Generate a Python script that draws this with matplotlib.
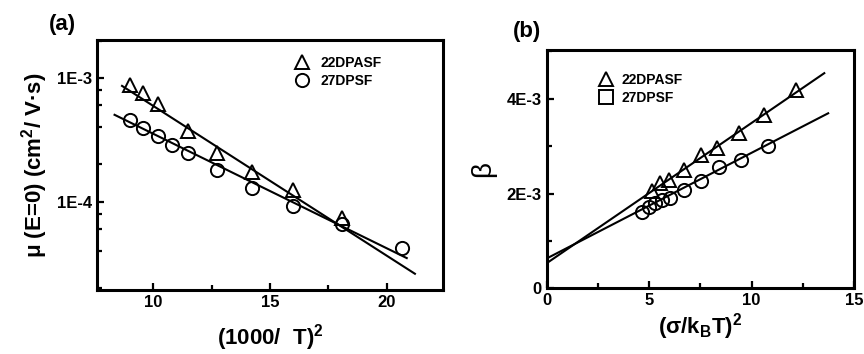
import numpy as np
import matplotlib
matplotlib.use('Agg')
import matplotlib.pyplot as plt
from matplotlib.lines import Line2D
from matplotlib.ticker import LogLocator, MultipleLocator, NullFormatter, FuncFormatter

plt.rcParams['font.family'] = ['Liberation Sans', 'DejaVu Sans']
plt.rcParams['font.weight'] = 'bold'
plt.rcParams['mathtext.fontset'] = 'custom'
plt.rcParams['mathtext.rm'] = 'Liberation Sans:bold'
plt.rcParams['mathtext.bf'] = 'Liberation Sans:bold'
plt.rcParams['mathtext.it'] = 'Liberation Sans:bold'

# (a) mu(E=0) vs (1000/T)^2
x_a_22 = [9.0, 9.58, 10.2, 11.5, 12.75, 14.24, 16.0, 18.1]
y_a_22 = [8.8e-4, 7.5e-4, 6.2e-4, 3.7e-4, 2.47e-4, 1.74e-4, 1.24e-4, 7.4e-5]
x_a_27 = [9.0, 9.58, 10.2, 10.8, 11.5, 12.75, 14.24, 16.0, 18.1, 20.66]
y_a_27 = [4.53e-4, 3.93e-4, 3.4e-4, 2.88e-4, 2.47e-4, 1.79e-4, 1.29e-4, 9.3e-5, 6.6e-5, 4.27e-5]
# fitted lines: log10(mu) = a + b*x, drawn over [x0, x1]
fit_a_22 = (-2.016, -0.121, 8.67, 21.2)
fit_a_27 = (-2.526, -0.0925, 8.35, 20.85)

# (b) beta vs (sigma/kT)^2
x_b_22 = [5.13, 5.54, 5.95, 6.69, 7.51, 8.33, 9.4, 10.62, 12.18]
y_b_22 = [2.06e-3, 2.22e-3, 2.29e-3, 2.5e-3, 2.82e-3, 2.96e-3, 3.27e-3, 3.66e-3, 4.19e-3]
x_b_27 = [4.64, 4.97, 5.3, 5.63, 6.04, 6.69, 7.51, 8.41, 9.48, 10.79]
y_b_27 = [1.62e-3, 1.72e-3, 1.79e-3, 1.86e-3, 1.9e-3, 2.08e-3, 2.27e-3, 2.56e-3, 2.71e-3, 3.0e-3]
# fitted lines: beta = a + b*x
fit_b_22 = (0.53e-3, 0.296e-3, 0.0, 13.55)
fit_b_27 = (0.63e-3, 0.223e-3, 0.0, 13.74)

fig = plt.figure(figsize=(8.64, 3.54), dpi=100)
ax1 = fig.add_axes([0.1123, 0.1808, 0.4004, 0.7062])
ax2 = fig.add_axes([0.6328, 0.1856, 0.3556, 0.6732])

mk = dict(ms=9.5, mfc='none', mec='black', mew=1.4, ls='none')

for ax in (ax1, ax2):
    for s in ax.spines.values():
        s.set_linewidth(2.2)
    ax.tick_params(which='both', direction='in', width=1.6, labelsize=12,
                   top=False, right=False)
    ax.tick_params(which='major', length=5)
    ax.tick_params(which='minor', length=3.5)

# panel (a)
ax1.plot(x_a_22, y_a_22, marker='^', **mk)
ax1.plot(x_a_27, y_a_27, marker='o', **mk)
for a, b, x0, x1 in (fit_a_22, fit_a_27):
    xs = np.array([x0, x1])
    ax1.plot(xs, 10 ** (a + b * xs), color='black', lw=1.5)
ax1.set_yscale('log')
ax1.set_xlim(7.6, 22.4)
ax1.set_ylim(1.94e-5, 2.02e-3)
ax1.xaxis.set_major_locator(MultipleLocator(5))
ax1.xaxis.set_minor_locator(MultipleLocator(2.5))
ax1.yaxis.set_major_locator(LogLocator(base=10, numticks=10))
ax1.yaxis.set_minor_locator(LogLocator(base=10, subs=(2, 4, 6, 8), numticks=10))
ax1.yaxis.set_minor_formatter(NullFormatter())
ax1.yaxis.set_major_formatter(FuncFormatter(lambda v, p: '1E%d' % round(np.log10(v))))
ax1.set_xlabel('(1000/  T)$^{2}$', fontsize=16, fontweight='bold', labelpad=9)
ax1.set_ylabel('μ (E=0) (cm$^{2}$/ V·s)', fontsize=16, fontweight='bold', labelpad=5)
ax1.legend(handles=[Line2D([], [], marker='^', **mk), Line2D([], [], marker='o', **mk)],
           labels=['22DPASF', '27DPSF'], loc='upper left', frameon=False,
           fontsize=10, handlelength=1.0, handletextpad=0.9, labelspacing=0.3,
           borderaxespad=0, bbox_to_anchor=(0.555, 0.96))
fig.text(0.057, 0.93, '(a)', fontsize=16, fontweight='bold', ha='left', va='center')

# panel (b)
ax2.plot(x_b_22, y_b_22, marker='^', **mk)
ax2.plot(x_b_27, y_b_27, marker='o', **mk)
for a, b, x0, x1 in (fit_b_22, fit_b_27):
    xs = np.array([x0, x1])
    ax2.plot(xs, a + b * xs, color='black', lw=1.5)
ax2.set_xlim(0, 15)
ax2.set_ylim(0, 5.03e-3)
ax2.xaxis.set_major_locator(MultipleLocator(5))
ax2.xaxis.set_minor_locator(MultipleLocator(2.5))
ax2.yaxis.set_major_locator(MultipleLocator(2e-3))
ax2.yaxis.set_minor_locator(MultipleLocator(1e-3))
ax2.yaxis.set_major_formatter(FuncFormatter(lambda v, p: '0' if v == 0 else '%dE-3' % round(v * 1e3)))
ax2.set_xlabel('(σ/k$_{B}$T)$^{2}$', fontsize=16, fontweight='bold', labelpad=2)
ax2.set_ylabel('β', fontsize=20, fontweight='normal', labelpad=8)
ax2.legend(handles=[Line2D([], [], marker='^', **mk), Line2D([], [], marker='s', **mk)],
           labels=['22DPASF', '27DPSF'], loc='upper left', frameon=False,
           fontsize=10, handlelength=1.0, handletextpad=0.6, labelspacing=0.3,
           borderaxespad=0, bbox_to_anchor=(0.152, 0.927))
fig.text(0.594, 0.91, '(b)', fontsize=16, fontweight='bold', ha='left', va='center')

fig.savefig('out.png', dpi=100)
